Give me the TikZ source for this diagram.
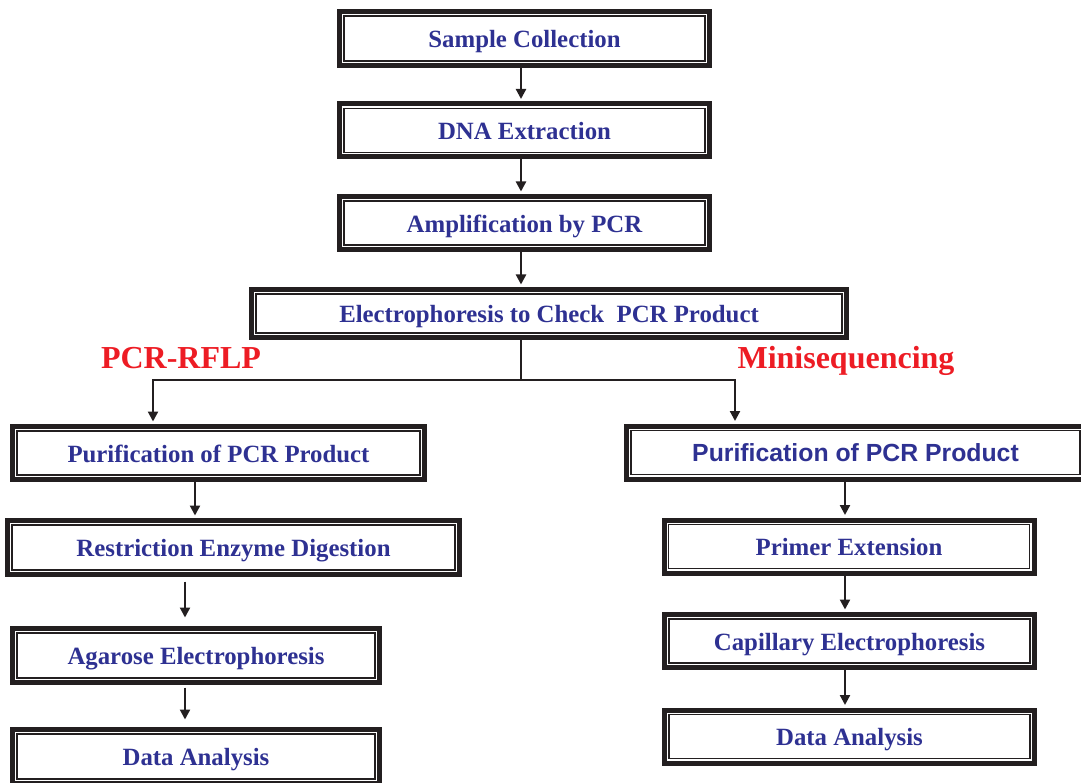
\documentclass[tikz,border=0pt]{standalone}
\usepackage{fontspec}
\setmainfont{Liberation Serif}
\newfontfamily\sansbf{Liberation Sans}
\usetikzlibrary{arrows.meta}
\definecolor{txtblue}{RGB}{46,49,146}
\definecolor{lblred}{RGB}{237,28,36}
\definecolor{frame}{RGB}{35,31,32}
\tikzset{
  fbox/.style={draw=frame, line width=5pt, fill=white, inner sep=0pt, text=txtblue,
    font=\fontsize{24.8}{28}\selectfont\bfseries, align=center,
    text height=23.6pt, text depth=5.4pt,
    path picture={\draw[line width=1.5pt, frame]
      ([shift={(4.5pt,-4.5pt)}]path picture bounding box.north west) rectangle
      ([shift={(-4.5pt,4.5pt)}]path picture bounding box.south east);}},
  flow/.style={line width=2.2pt, draw=frame, -{Triangle[length=10pt,width=10pt]}},
  plain/.style={line width=2.2pt, draw=frame},
  lbl/.style={text=lblred, font=\fontsize{32}{36}\selectfont\bfseries, inner sep=0pt,
    text height=22.5pt, text depth=0pt}
}
\begin{document}
\begin{tikzpicture}[x=1pt,y=-1pt]
\useasboundingbox (0,0) rectangle (1081,783);
% main column
\node[fbox, minimum width=370pt, minimum height=54pt] (s1) at (524.5,38.5) {Sample Collection};
\node[fbox, minimum width=370pt, minimum height=53pt] (s2) at (524.5,130.5) {DNA Extraction};
\node[fbox, minimum width=370pt, minimum height=53pt] (s3) at (524.5,223) {Amplification by PCR};
\node[fbox, minimum width=595pt, minimum height=48pt] (s4) at (549,313.5) {Electrophoresis to Check\ \ PCR Product};
% labels
\node[lbl] (rflp) at (181,357) {PCR-RFLP};
\node[lbl] (mini) at (846,357) {Minisequencing};
% left branch
\node[fbox, minimum width=412pt, minimum height=53pt] (l1) at (218.5,453) {Purification of PCR Product};
\node[fbox, minimum width=452pt, minimum height=54pt] (l2) at (233.5,547.5) {Restriction Enzyme Digestion};
\node[fbox, minimum width=367pt, minimum height=54pt] (l3) at (196,655.5) {Agarose Electrophoresis};
\node[fbox, minimum width=367pt, minimum height=54pt] (l4) at (196,756.5) {Data Analysis};
% right branch
\node[fbox, minimum width=458pt, minimum height=53pt, font=\fontsize{24.8}{28}\selectfont\sansbf\bfseries] (r1) at (855.5,452.5) {Purification of PCR Product};
\node[fbox, minimum width=370pt, minimum height=53pt] (r2) at (849,546.5) {Primer Extension};
\node[fbox, minimum width=370pt, minimum height=53pt] (r3) at (849.5,641) {Capillary Electrophoresis};
\node[fbox, minimum width=370pt, minimum height=53pt] (r4) at (849.5,736.5) {Data Analysis};
% guide coordinates
\coordinate (xm) at (521,0);
\coordinate (br) at (521,380);
\coordinate (bl) at (153,380);
\coordinate (bR) at (735,380);
\coordinate (xl1) at (195,0);
\coordinate (xl2) at (185,0);
\coordinate (xr) at (845,0);
% connectors
\draw[flow, shorten >=2.5pt] (s1.south -| xm) -- (s2.north -| xm);
\draw[flow, shorten >=2.5pt] (s2.south -| xm) -- (s3.north -| xm);
\draw[flow, shorten >=2.5pt] (s3.south -| xm) -- (s4.north -| xm);
\draw[plain] (s4.south -| xm) -- (br);
\draw[flow, shorten >=2.5pt] (br) -- (bl) -- (l1.north -| bl);
\draw[flow, shorten >=2.5pt] (br) -- (bR) -- (r1.north -| bR);
\draw[flow, shorten >=2.5pt] (l1.south -| xl1) -- (l2.north -| xl1);
\draw[flow, shorten <=4.5pt, shorten >=8.5pt] (l2.south -| xl2) -- (l3.north -| xl2);
\draw[flow, shorten <=2.5pt, shorten >=7.5pt] (l3.south -| xl2) -- (l4.north -| xl2);
\draw[flow, shorten >=2.5pt] (r1.south -| xr) -- (r2.north -| xr);
\draw[flow, shorten >=2.5pt] (r2.south -| xr) -- (r3.north -| xr);
\draw[flow, shorten >=2.5pt] (r3.south -| xr) -- (r4.north -| xr);
\end{tikzpicture}
\end{document}
